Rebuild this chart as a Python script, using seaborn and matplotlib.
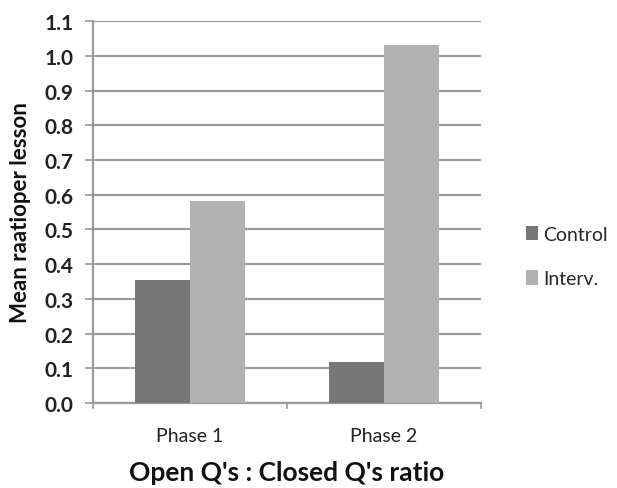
import pandas as pd
import matplotlib.pyplot as plt
import seaborn as sns

phases = ["Phase 1", "Phase 2"]
groups = ["Control", "Interv."]
control_values = [0.355, 0.118]
interv_values = [0.582, 1.032]
y_ticks = [0.0, 0.1, 0.2, 0.3, 0.4, 0.5, 0.6, 0.7, 0.8, 0.9, 1.0, 1.1]

data = pd.DataFrame({
    "phase": phases * 2,
    "group": [groups[0]] * 2 + [groups[1]] * 2,
    "value": control_values + interv_values,
})

sns.set_style("white")
plt.rcParams["font.family"] = ["Lato", "DejaVu Sans"]

fig = plt.figure(figsize=(6.17, 4.89), dpi=100)
ax = fig.add_axes([0.1507, 0.1738, 0.629, 0.781])

# bars
sns.barplot(
    data=data, x="phase", y="value", hue="group",
    palette=["#777777", "#b2b2b2"], width=0.565, saturation=1,
    edgecolor="none", ax=ax, zorder=3,
)

ax.set_ylim(0, 1.1)
ax.set_xlim(-0.5, 1.5)
ax.set_yticks(y_ticks)
ax.set_yticklabels([f"{t:.1f}" for t in y_ticks], fontsize=15, fontweight="bold")
ax.set_xticks([-0.5, 0.5, 1.5], minor=False)
ax.set_xticklabels(["", "", ""])
ax.set_xticks([0, 1], minor=True)
ax.set_xticklabels(phases, minor=True, fontsize=14)
ax.tick_params(axis="x", which="major", length=4.5, width=1.2, color="#9a9a9a",
               direction="out", bottom=True)
ax.tick_params(axis="x", which="minor", length=0, pad=17, colors="#222222")
ax.tick_params(axis="y", length=6, width=1.2, color="#9a9a9a", direction="out",
               left=True, pad=8, labelcolor="#222222")

ax.yaxis.grid(True, color="#9a9a9a", linewidth=1.6, zorder=0)
for side in ["top", "right"]:
    ax.spines[side].set_visible(False)
for side in ["left", "bottom"]:
    ax.spines[side].set_color("#9a9a9a")
    ax.spines[side].set_linewidth(1.6)

ax.set_ylabel("Mean raatioper lesson", fontsize=16, fontweight="bold",
              labelpad=10, color="#111111")
ax.set_xlabel("Open Q's : Closed Q's ratio", fontsize=19, fontweight="bold",
              labelpad=12, color="#111111")

ax.legend(
    loc="center left", bbox_to_anchor=(1.09, 0.383), frameon=False,
    fontsize=14, handlelength=0.65, handleheight=0.75, handletextpad=0.25,
    labelspacing=1.4, borderpad=0,
)

fig.savefig("out.png", dpi=100)
